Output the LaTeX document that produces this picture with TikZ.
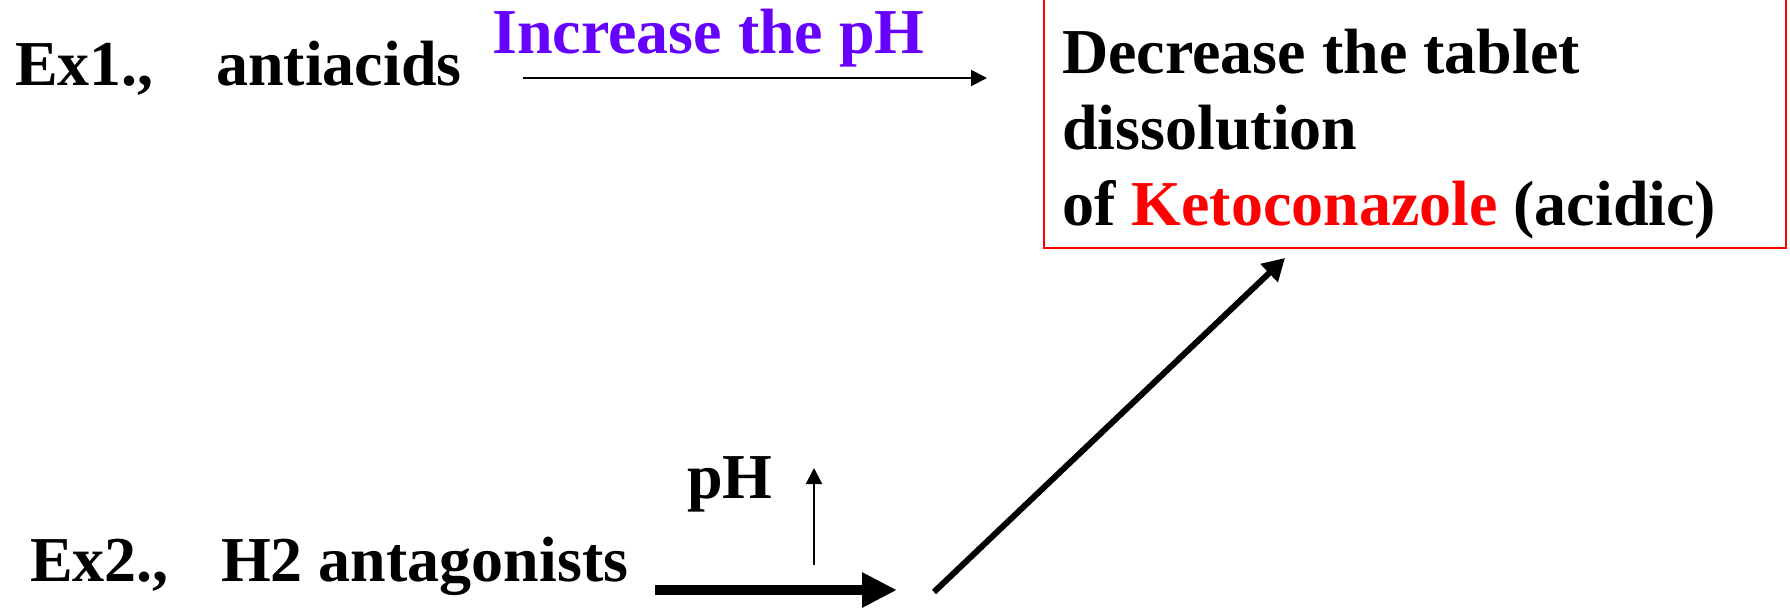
\documentclass[tikz,border=0pt]{standalone}
\usepackage{fontspec}
\setmainfont{Liberation Serif}
\usetikzlibrary{arrows.meta}
\definecolor{incpurple}{RGB}{102,0,255}
\definecolor{ketored}{RGB}{255,0,0}
\begin{document}
\begin{tikzpicture}[x=1pt,y=-1pt,
  lbl/.style={anchor=base west,inner sep=0pt,font=\fontsize{64}{76}\selectfont\bfseries},
  thinarrow/.style={line width=2pt,-{Triangle[length=16pt,width=16pt]}},
  thickarrow/.style={line width=10pt,-{Triangle[length=35pt,width=33pt]}},
  diagarrow/.style={line width=6pt,-{Triangle[length=22pt,width=24pt]}},
  redbox/.style={draw=ketored,line width=1.7pt}]
\useasboundingbox (0,0) rectangle (1790,610);
% top row
\node[lbl] (ex1) at (15,85) {Ex1.,};
\node[lbl] (anti) at (216,85) {antiacids};
\node[lbl,text=incpurple] (inc) at (492,53) {Increase the pH};
\coordinate (a1s) at (523,78);
\coordinate (a1e) at (987,78);
\draw[thinarrow] (a1s) -- (a1e);
% box
\draw[redbox] (1044,-5) rectangle (1786,248);
\coordinate (boxbot) at (1285,258);
\node[anchor=north west,inner sep=0pt,align=left,font=\fontsize{64}{76}\selectfont\bfseries] (res) at (1062,23)
  {\rule{0pt}{50pt}Decrease the tablet\\dissolution\\of \textcolor{ketored}{Ketoconazole} (acidic)};
% bottom row
\node[lbl] (ex2) at (30,581) {Ex2.,};
\node[lbl] (h2) at (221,581) {H2 antagonists};
\node[lbl] (ph) at (687,498) {pH};
\coordinate (ups) at (814,565);
\coordinate (upe) at (814,468);
\draw[thinarrow] (ups) -- (upe);
\coordinate (hs) at (655,590);
\coordinate (he) at (897,590);
\draw[thickarrow] (hs) -- (he);
\coordinate (ds) at (934,592);
\draw[diagarrow] (ds) -- (boxbot);
\end{tikzpicture}
\end{document}
